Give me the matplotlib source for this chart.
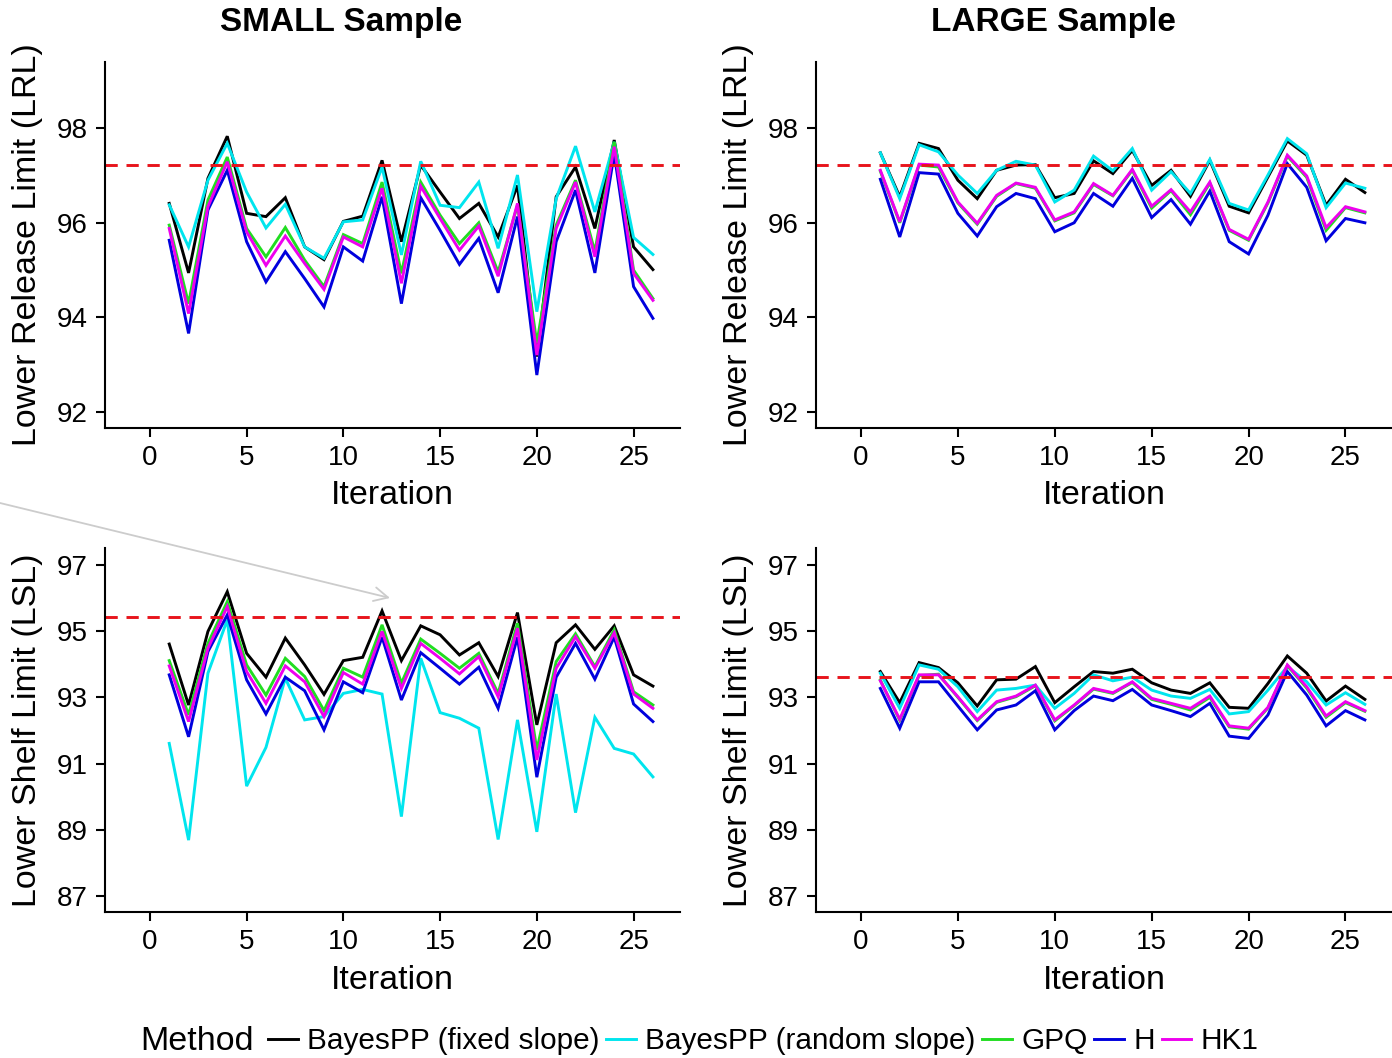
import matplotlib
matplotlib.use("Agg")
import matplotlib.pyplot as plt
from matplotlib.lines import Line2D
from matplotlib.patches import FancyArrowPatch

plt.rcParams['font.family'] = ['Liberation Sans', 'DejaVu Sans']

iterations = list(range(1, 27))
methods = ["BayesPP (fixed slope)", "BayesPP (random slope)", "GPQ", "H", "HK1"]
colors = {"BayesPP (fixed slope)": "#000000", "BayesPP (random slope)": "#00e5ee",
          "GPQ": "#22dd22", "H": "#0000dd", "HK1": "#ee00ee"}

# SMALL sample, LRL
small_lrl = {
    "BayesPP (fixed slope)": [96.41, 94.94, 96.94, 97.83, 96.20, 96.13, 96.53, 95.49, 95.22, 96.03, 96.14, 97.32, 95.60,
                              97.22, 96.65, 96.09, 96.41, 95.70, 96.79, 93.17, 96.55, 97.18, 95.88, 97.75, 95.49, 95.01],
    "BayesPP (random slope)": [96.38, 95.49, 96.90, 97.68, 96.65, 95.89, 96.39, 95.49, 95.25, 96.02, 96.06, 97.18, 95.32,
                               97.30, 96.37, 96.32, 96.86, 95.46, 97.01, 94.12, 96.51, 97.62, 96.23, 97.71, 95.69, 95.33],
    "GPQ": [95.95, 94.29, 96.48, 97.39, 95.88, 95.28, 95.90, 95.21, 94.65, 95.75, 95.56, 96.86, 94.93,
            96.86, 96.16, 95.56, 96.00, 94.96, 96.37, 93.45, 95.95, 96.90, 95.39, 97.71, 95.00, 94.40],
    "H": [95.63, 93.66, 96.27, 97.11, 95.60, 94.75, 95.39, 94.82, 94.22, 95.49, 95.19, 96.55, 94.29,
          96.53, 95.84, 95.12, 95.67, 94.52, 96.13, 92.78, 95.60, 96.69, 94.94, 97.46, 94.65, 93.98],
    "HK1": [95.88, 94.08, 96.34, 97.29, 95.81, 95.10, 95.72, 95.14, 94.59, 95.70, 95.49, 96.73, 94.72,
            96.77, 96.09, 95.42, 95.93, 94.87, 96.41, 93.20, 95.88, 96.86, 95.28, 97.61, 94.93, 94.36],
}

# LARGE sample, LRL
large_lrl = {
    "BayesPP (fixed slope)": [97.48, 96.55, 97.68, 97.57, 96.90, 96.51, 97.11, 97.22, 97.23, 96.53, 96.62, 97.31, 97.04,
                              97.53, 96.79, 97.11, 96.56, 97.32, 96.35, 96.21, 96.97, 97.73, 97.43, 96.37, 96.92, 96.64],
    "BayesPP (random slope)": [97.48, 96.51, 97.65, 97.50, 97.01, 96.62, 97.11, 97.30, 97.22, 96.44, 96.69, 97.41, 97.10,
                               97.57, 96.69, 97.08, 96.62, 97.34, 96.41, 96.27, 97.01, 97.78, 97.46, 96.32, 96.84, 96.73],
    "GPQ": [97.09, 96.00, 97.22, 97.18, 96.42, 95.97, 96.56, 96.83, 96.73, 96.04, 96.21, 96.81, 96.57,
            97.11, 96.31, 96.68, 96.17, 96.84, 95.84, 95.63, 96.42, 97.41, 96.96, 95.84, 96.32, 96.21],
    "H": [96.92, 95.70, 97.06, 97.03, 96.20, 95.72, 96.34, 96.62, 96.51, 95.81, 96.00, 96.62, 96.35,
          96.94, 96.11, 96.49, 95.97, 96.67, 95.60, 95.34, 96.16, 97.25, 96.75, 95.62, 96.09, 96.00],
    "HK1": [97.11, 96.02, 97.24, 97.22, 96.44, 95.99, 96.58, 96.84, 96.75, 96.06, 96.23, 96.83, 96.58,
            97.13, 96.35, 96.70, 96.23, 96.86, 95.86, 95.65, 96.44, 97.43, 96.99, 95.90, 96.34, 96.23],
}

# SMALL sample, LSL
small_lsl = {
    "BayesPP (fixed slope)": [94.61, 92.77, 94.99, 96.19, 94.33, 93.61, 94.79, 93.98, 93.09, 94.11, 94.21, 95.61, 94.11,
                              95.16, 94.89, 94.28, 94.65, 93.63, 95.56, 92.17, 94.65, 95.19, 94.45, 95.16, 93.68, 93.34],
    "BayesPP (random slope)": [91.61, 88.69, 93.73, 95.34, 90.32, 91.49, 93.58, 92.32, 92.42, 93.12, 93.24, 93.10, 89.40,
                               94.18, 92.54, 92.37, 92.07, 88.71, 92.32, 88.94, 93.10, 89.52, 92.40, 91.46, 91.29, 90.60],
    "GPQ": [94.11, 92.47, 94.63, 95.89, 93.98, 93.07, 94.18, 93.63, 92.60, 93.88, 93.61, 95.19, 93.43,
            94.76, 94.33, 93.88, 94.33, 93.12, 95.24, 91.41, 94.08, 94.92, 93.93, 95.04, 93.17, 92.77],
    "H": [93.68, 91.81, 94.38, 95.49, 93.53, 92.50, 93.61, 93.20, 92.02, 93.47, 93.14, 94.82, 92.92,
          94.35, 93.88, 93.40, 93.91, 92.67, 94.82, 90.59, 93.61, 94.63, 93.55, 94.82, 92.80, 92.27],
    "HK1": [93.95, 92.27, 94.48, 95.74, 93.78, 92.82, 93.95, 93.47, 92.42, 93.75, 93.40, 94.99, 93.27,
            94.63, 94.18, 93.71, 94.23, 93.02, 95.09, 91.11, 93.88, 94.83, 93.88, 94.95, 93.10, 92.67],
}

# LARGE sample, LSL
large_lsl = {
    "BayesPP (fixed slope)": [93.78, 92.84, 94.05, 93.90, 93.44, 92.74, 93.53, 93.55, 93.93, 92.84, 93.32, 93.78, 93.73,
                              93.85, 93.44, 93.22, 93.12, 93.44, 92.70, 92.67, 93.42, 94.25, 93.73, 92.89, 93.34, 92.94],
    "BayesPP (random slope)": [93.73, 92.67, 93.98, 93.85, 93.32, 92.57, 93.22, 93.27, 93.37, 92.67, 93.12, 93.68, 93.50,
                               93.61, 93.22, 93.04, 92.97, 93.24, 92.50, 92.57, 93.22, 93.93, 93.47, 92.77, 93.14, 92.79],
    "GPQ": [93.52, 92.31, 93.66, 93.70, 93.00, 92.30, 92.85, 93.02, 93.35, 92.29, 92.75, 93.25, 93.12,
            93.45, 92.94, 92.79, 92.62, 93.00, 92.11, 92.04, 92.68, 93.96, 93.28, 92.40, 92.84, 92.58],
    "H": [93.27, 92.07, 93.47, 93.47, 92.74, 92.02, 92.62, 92.77, 93.20, 92.02, 92.60, 93.04, 92.90,
          93.24, 92.77, 92.60, 92.42, 92.82, 91.83, 91.76, 92.47, 93.78, 93.07, 92.14, 92.60, 92.32],
    "HK1": [93.50, 92.34, 93.68, 93.68, 93.02, 92.32, 92.87, 93.04, 93.37, 92.32, 92.77, 93.27, 93.14,
            93.47, 92.97, 92.82, 92.67, 93.04, 92.14, 92.07, 92.70, 93.98, 93.32, 92.44, 92.87, 92.60],
}

ref_lrl_small = 97.23
ref_lrl_large = 97.23
ref_lsl_small = 95.43
ref_lsl_large = 93.63

x_ticks = [0, 5, 10, 15, 20, 25]
lrl_ticks = [92, 94, 96, 98]
lsl_ticks = [87, 89, 91, 93, 95, 97]

W, H = 1392, 1058
fig = plt.figure(figsize=(W / 100, H / 100), dpi=100)

def axes_px(left, top, right, bottom):
    return fig.add_axes([left / W, 1 - bottom / H, (right - left) / W, (bottom - top) / H])

panels = [
    (axes_px(105, 62, 680, 428), small_lrl, ref_lrl_small, lrl_ticks, (91.66, 99.4), "Lower Release Limit (LRL)", -0.142),
    (axes_px(816, 62, 1392, 428), large_lrl, ref_lrl_large, lrl_ticks, (91.66, 99.4), "Lower Release Limit (LRL)", -0.142),
    (axes_px(105, 548, 680, 912), small_lsl, ref_lsl_small, lsl_ticks, (86.52, 97.51), "Lower Shelf Limit (LSL)", -0.145),
    (axes_px(816, 548, 1392, 912), large_lsl, ref_lsl_large, lsl_ticks, (86.52, 97.51), "Lower Shelf Limit (LSL)", -0.145),
]

for ax, data, ref, yt, ylim, ylab, xl_y in panels:
    for m in methods:
        ax.plot(iterations, data[m], color=colors[m], lw=2.1, solid_joinstyle='miter')
    ax.axhline(ref, color="#e8141c", lw=2.1, ls=(0, (4.2, 3.0)))
    ax.set_xlim(-2.32, 27.4)
    ax.set_ylim(*ylim)
    ax.set_xticks(x_ticks)
    ax.set_yticks(yt)
    for s in ["top", "right"]:
        ax.spines[s].set_visible(False)
    for s in ["left", "bottom"]:
        ax.spines[s].set_linewidth(1.5)
    ax.tick_params(axis="both", length=6.5, width=1.5, labelsize=20, pad=6, colors="black")
    ax.set_xlabel("Iteration", fontsize=24.5)
    ax.xaxis.set_label_coords(0.5, xl_y)
    ax.set_ylabel(ylab, fontsize=24.5)
    ax.yaxis.set_label_coords(-0.107, 0.5)

fig.text(341 / W, 1 - 22 / H, "SMALL Sample", fontsize=24, fontweight="bold", ha="center", va="center")
fig.text(1053 / W, 1 - 22 / H, "LARGE Sample", fontsize=24, fontweight="bold", ha="center", va="center")

# legend
fig.text(140 / W, 1 - 1041 / H, "Method", fontsize=24.5, ha="left", va="center")
handles = [Line2D([0], [0], color=colors[m], lw=2.1) for m in methods]
fig.legend(handles, methods, loc="center left", bbox_to_anchor=(268 / W, 1 - 1041 / H),
           ncol=5, frameon=False, fontsize=21.4, handlelength=1.0, handletextpad=0.3,
           columnspacing=0.24, borderaxespad=0, borderpad=0)

# stray grey arrow annotation
fig.add_artist(FancyArrowPatch(
    posA=(0 / W, 1 - 503 / H), posB=(390 / W, 1 - 598 / H), transform=fig.transFigure,
    arrowstyle="->,head_length=10,head_width=5", color="#cccccc", lw=1.3,
    mutation_scale=1, shrinkA=0, shrinkB=0))

fig.savefig("out.png", dpi=100)
